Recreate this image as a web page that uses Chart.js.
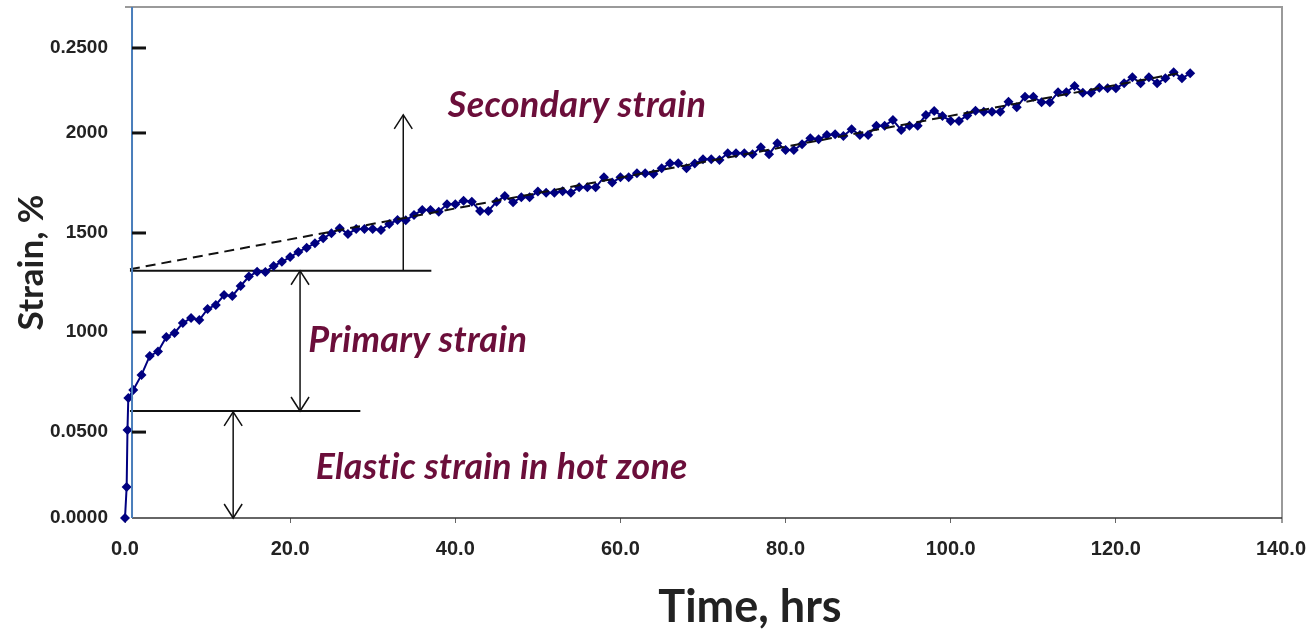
<!DOCTYPE html>
<html>
<head>
<meta charset="utf-8">
<script src="https://cdn.jsdelivr.net/npm/chart.js@4/dist/chart.umd.min.js"></script>
<style>
  html, body { margin: 0; padding: 0; background: #fff; }
  #wrap { width: 1310px; height: 629px; position: relative; }
</style>
</head>
<body>
<div id="wrap"><canvas id="chart"></canvas></div>
<script>
// time (hrs) and strain readings, first few are the loading at t=0
const hours = [0, 0.2, 0.3, 0.4,
  1, 2, 3, 4, 5, 6, 7, 8, 9, 10, 11, 12, 13, 14, 15, 16, 17, 18, 19, 20,
  21, 22, 23, 24, 25, 26, 27, 28, 29, 30, 31, 32, 33, 34, 35, 36, 37, 38, 39, 40,
  41, 42, 43, 44, 45, 46, 47, 48, 49, 50, 51, 52, 53, 54, 55, 56, 57, 58, 59, 60,
  61, 62, 63, 64, 65, 66, 67, 68, 69, 70, 71, 72, 73, 74, 75, 76, 77, 78, 79, 80,
  81, 82, 83, 84, 85, 86, 87, 88, 89, 90, 91, 92, 93, 94, 95, 96, 97, 98, 99, 100,
  101, 102, 103, 104, 105, 106, 107, 108, 109, 110, 111, 112, 113, 114, 115, 116, 117, 118, 119, 120,
  121, 122, 123, 124, 125, 126, 127, 128, 129];
const strain = [0, 0.0165, 0.0468, 0.0638,
  0.0681, 0.0761, 0.0862, 0.0885, 0.0963, 0.0984, 0.1037, 0.1064, 0.1053, 0.1112,
  0.1133, 0.1186, 0.1181, 0.1234, 0.1284, 0.1310, 0.1309, 0.1340, 0.1363, 0.1388,
  0.1415, 0.1438, 0.1461, 0.1488, 0.1514, 0.1541, 0.1511, 0.1537, 0.1537, 0.1537,
  0.1532, 0.1564, 0.1585, 0.1584, 0.1612, 0.1638, 0.1638, 0.1629, 0.1669, 0.1669,
  0.1688, 0.1682, 0.1633, 0.1633, 0.1682, 0.1713, 0.1679, 0.1706, 0.1706, 0.1736,
  0.1730, 0.1730, 0.1738, 0.1730, 0.1759, 0.1759, 0.1759, 0.1812, 0.1784, 0.1812,
  0.1812, 0.1834, 0.1834, 0.1830, 0.1860, 0.1887, 0.1887, 0.1860, 0.1885, 0.1908,
  0.1908, 0.1904, 0.1940, 0.1940, 0.1940, 0.1935, 0.1972, 0.1935, 0.1993, 0.1957,
  0.1957, 0.1988, 0.2020, 0.2014, 0.2037, 0.2041, 0.2032, 0.2068, 0.2037, 0.2037,
  0.2087, 0.2087, 0.2117, 0.2064, 0.2087, 0.2087, 0.2144, 0.2165, 0.2138, 0.2112,
  0.2112, 0.2141, 0.2166, 0.2161, 0.2161, 0.2161, 0.2214, 0.2185, 0.2241, 0.2241,
  0.2211, 0.2211, 0.2264, 0.2264, 0.2298, 0.2262, 0.2262, 0.2289, 0.2286, 0.2286,
  0.2312, 0.2344, 0.2312, 0.2344, 0.2312, 0.2339, 0.2371, 0.2339, 0.2365];

// secondary strain fit line
const trendHours = [0.6, 128];
const trendStrain = [0.1323, 0.2369];

// y ticks as they sit in the picture (labels are as printed)
const yTickValues = [0, 0.0457, 0.0989, 0.1516, 0.2048, 0.25];
const yTickLabels = ['0.0000', '0.0500', '1000', '1500', '2000', '0.2500'];

// reference levels and arrows
const primaryLevel = 0.1315;
const elasticLevel = 0.0569;
const levelLines = [
  { from: 0.6, to: 37.1, value: primaryLevel },
  { from: 0.6, to: 28.5, value: elasticLevel }
];
const arrows = [
  { hour: 21.2, from: elasticLevel, to: primaryLevel, both: true },
  { hour: 33.7, from: primaryLevel, to: 0.2144, both: false },
  { hour: 13.1, from: 0, to: 0.0564, both: true }
];
const notes = [
  { text: 'Secondary strain', hour: 39.1, value: 0.2197, width: 260 },
  { text: 'Primary strain', hour: 22.2, value: 0.0947, width: 220 },
  { text: 'Elastic strain in hot zone', hour: 23.1, value: 0.0271, width: 374 }
];
const axisHour = 0.85;
const xTitle = 'Time, hrs';

const pts = (xs, ys) => xs.map((v, i) => ({ x: v, y: ys[i] }));

const datasets = [
  {
    data: pts(trendHours, trendStrain),
    borderColor: '#111', borderWidth: 2, borderDash: [10, 6],
    pointRadius: 0, order: 0
  },
  {
    data: pts(hours, strain),
    borderColor: '#000080', backgroundColor: '#000080',
    borderWidth: 2, pointStyle: 'rectRot', pointRadius: 5,
    pointBorderWidth: 0, clip: false, order: 1
  }
];
levelLines.forEach(l => datasets.push({
  data: [{ x: l.from, y: l.value }, { x: l.to, y: l.value }],
  borderColor: '#111', borderWidth: 2, pointRadius: 0, order: 2
}));
arrows.forEach(a => datasets.push({
  data: [{ x: a.hour, y: a.from }, { x: a.hour, y: a.to }],
  borderColor: '#111', borderWidth: 1.5, pointRadius: 0, order: 2
}));

const deco = {
  id: 'deco',
  beforeDatasetsDraw(chart) {
    const { ctx, chartArea: a } = chart;
    ctx.save();
    ctx.strokeStyle = '#9a9a9a';
    ctx.lineWidth = 2;
    ctx.beginPath();
    ctx.moveTo(a.left, a.top);
    ctx.lineTo(a.right + 1, a.top);
    ctx.lineTo(a.right + 1, a.bottom + 5);
    ctx.stroke();
    ctx.restore();
  },
  afterDatasetsDraw(chart) {
    const { ctx, chartArea: a, scales: { x, y } } = chart;
    const bx = x.getPixelForValue(axisHour);
    ctx.save();
    // x axis line
    ctx.strokeStyle = '#333';
    ctx.lineWidth = 1.5;
    ctx.beginPath();
    ctx.moveTo(bx, a.bottom);
    ctx.lineTo(a.right + 1, a.bottom);
    ctx.stroke();
    // blue y axis
    ctx.strokeStyle = '#4a7ebb';
    ctx.lineWidth = 2;
    ctx.beginPath();
    ctx.moveTo(bx, a.top);
    ctx.lineTo(bx, a.bottom);
    ctx.stroke();
    // inside tick marks
    ctx.strokeStyle = '#111';
    ctx.lineWidth = 3;
    yTickValues.slice(1).forEach(v => {
      const py = y.getPixelForValue(v);
      ctx.beginPath();
      ctx.moveTo(bx, py);
      ctx.lineTo(bx + 14, py);
      ctx.stroke();
    });
    // arrow heads
    ctx.strokeStyle = '#111';
    ctx.lineWidth = 1.5;
    const head = (px, py, dir) => {
      ctx.beginPath();
      ctx.moveTo(px - 9, py + dir * 14);
      ctx.lineTo(px, py);
      ctx.lineTo(px + 9, py + dir * 14);
      ctx.stroke();
    };
    arrows.forEach(ar => {
      const px = x.getPixelForValue(ar.hour);
      head(px, y.getPixelForValue(ar.to), 1);
      if (ar.both) head(px, y.getPixelForValue(ar.from), -1);
    });
    // notes (small letter spacing keeps the "ti" from joining)
    ctx.fillStyle = '#6b0e3a';
    ctx.textBaseline = 'middle';
    ctx.textAlign = 'left';
    ctx.letterSpacing = '0.3px';
    notes.forEach(n => {
      ctx.font = 'italic bold 28px Lato';
      const w = ctx.measureText(n.text).width;
      const size = 28 * n.width / w;
      ctx.font = 'italic bold ' + size.toFixed(1) + 'px Lato';
      ctx.fillText(n.text, x.getPixelForValue(n.hour), y.getPixelForValue(n.value));
    });
    ctx.letterSpacing = '0px';
    // x axis title, sits right of the plot centre in the original
    ctx.fillStyle = '#222';
    ctx.textAlign = 'center';
    ctx.font = 'bold 45px Lato';
    ctx.fillText(xTitle, 750, 607);
    ctx.restore();
  }
};

new Chart(document.getElementById('chart'), {
  type: 'line',
  data: { datasets: datasets },
  options: {
    responsive: true,
    maintainAspectRatio: false,
    animation: false,
    layout: { padding: { top: 7, right: 29, left: 0, bottom: 0 } },
    plugins: { legend: { display: false }, tooltip: { enabled: false } },
    scales: {
      x: {
        type: 'linear',
        min: 0, max: 140,
        afterFit: s => { s.height = 111; s.paddingLeft = 0; s.paddingRight = 0; },
        grid: { drawOnChartArea: false, drawTicks: true, tickLength: 5, color: '#666' },
        border: { display: false },
        ticks: {
          stepSize: 20, padding: 14, color: '#222',
          font: { family: 'Liberation Sans', weight: 'bold', size: 20 },
          callback: v => v.toFixed(1)
        }
      },
      y: {
        type: 'linear',
        min: 0, max: 0.2718,
        afterFit: s => { s.width = 125; s.paddingTop = 0; s.paddingBottom = 0; },
        afterBuildTicks: s => { s.ticks = yTickValues.map(v => ({ value: v })); },
        grid: { display: false, drawTicks: false },
        border: { display: false },
        ticks: {
          padding: 17, color: '#222',
          font: { family: 'Liberation Sans', weight: 'bold', size: 19 },
          callback: (v, i) => yTickLabels[i]
        },
        title: {
          display: true, text: 'Strain, %', color: '#222',
          font: { family: 'Lato', weight: 'bold', size: 35 },
          padding: { top: 11, bottom: 0 }
        }
      }
    }
  },
  plugins: [deco]
});
</script>
</body>
</html>
